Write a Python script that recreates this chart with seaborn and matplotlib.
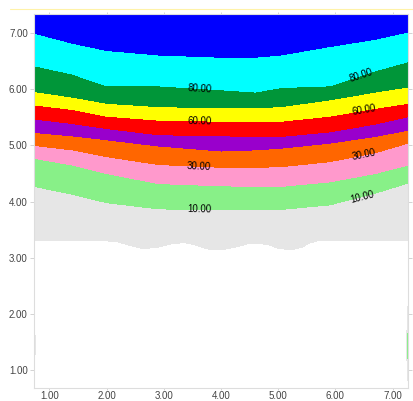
import matplotlib
matplotlib.use("Agg")
import matplotlib.pyplot as plt
import matplotlib.tri as mtri
from matplotlib.lines import Line2D
import numpy as np
import seaborn as sns

# columns where the band edges were read
x_cols = [0.73, 1.4, 2.0, 2.9, 4.0, 4.6, 5.05, 5.9, 6.7, 7.27]

# height of each contour level along those columns
y_90 = [7.00, 6.82, 6.69, 6.61, 6.57, 6.57, 6.61, 6.76, 6.89, 7.02]
y_80 = [6.42, 6.27, 6.06, 6.06, 5.99, 5.95, 6.03, 6.06, 6.33, 6.49]
y_70 = [5.96, 5.86, 5.75, 5.69, 5.67, 5.67, 5.69, 5.81, 5.95, 6.04]
y_60 = [5.72, 5.64, 5.52, 5.45, 5.43, 5.42, 5.43, 5.52, 5.66, 5.75]
y_50 = [5.47, 5.39, 5.30, 5.19, 5.17, 5.16, 5.16, 5.24, 5.38, 5.51]
y_40 = [5.23, 5.17, 5.10, 4.99, 4.90, 4.92, 4.95, 5.04, 5.16, 5.27]
y_30 = [5.00, 4.92, 4.80, 4.66, 4.61, 4.61, 4.62, 4.71, 4.87, 5.04]
y_20 = [4.77, 4.65, 4.50, 4.32, 4.28, 4.27, 4.27, 4.35, 4.50, 4.65]
y_10 = [4.27, 4.13, 3.98, 3.87, 3.85, 3.85, 3.86, 3.94, 4.15, 4.33]
y_top = [7.34] * len(x_cols)
z_top = [97] * len(x_cols)

# wavy lower edge of the filled area (value 0)
x_zero = [0.73, 1.4, 2.0, 2.2, 2.4, 2.64, 2.9, 3.15, 3.35, 3.55, 3.75, 3.87, 4.05,
          4.3, 4.5, 4.63, 4.8, 5.0, 5.21, 5.4, 5.55, 5.68, 6.5, 7.27]
y_zero = [3.30, 3.30, 3.30, 3.28, 3.22, 3.16, 3.19, 3.25, 3.27, 3.23, 3.16, 3.14, 3.15,
          3.20, 3.26, 3.27, 3.24, 3.17, 3.14, 3.18, 3.26, 3.30, 3.30, 3.30]

# low (unfilled) region
x_low = [0.73, 1.0, 2.0, 3.0, 4.0, 5.0, 6.0, 7.0, 7.27]
z_low_mid = [-1, -20, -20, -20, -20, -20, -20, -20, -1.3]
z_low_bottom = [-1, -20, -20, -20, -20, -20, -20, -20, -3]
y_low_mid = 2.2
y_low_bottom = 0.68

# thin slivers at the side edges
x_edge = [0.73, 0.80, 7.20, 7.27]
y_edge = [1.45, 1.45, 1.41, 1.41]
z_edge = [10, -20, -20, 15]

levels = [0, 10, 20, 30, 40, 50, 60, 70, 80, 90, 100]
colors = ["#e6e6e6", "#88f088", "#ff99cc", "#ff6600", "#9900cc",
          "#ff0000", "#ffff00", "#009639", "#00ffff", "#0000ff"]
label_levels = [10, 30, 60, 80]
label_pos = [(3.62, 3.83), (6.45, 4.14), (3.62, 4.6), (6.5, 4.87),
             (3.62, 5.42), (6.5, 5.64), (3.62, 5.97), (6.45, 6.24)]

xs, ys, zs = [], [], []
for lev, yy in zip([10, 20, 30, 40, 50, 60, 70, 80, 90],
                   [y_10, y_20, y_30, y_40, y_50, y_60, y_70, y_80, y_90]):
    xs += x_cols
    ys += yy
    zs += [lev] * len(x_cols)
xs += x_cols; ys += y_top; zs += z_top
xs += x_zero; ys += y_zero; zs += [0] * len(x_zero)
xs += x_low; ys += [y_low_mid] * len(x_low); zs += z_low_mid
xs += x_low; ys += [y_low_bottom] * len(x_low); zs += z_low_bottom
xs += x_edge; ys += y_edge; zs += z_edge

tri = mtri.Triangulation(np.array(xs), np.array(ys))
z = np.array(zs, dtype=float)

sns.set_style("ticks")
plt.rcParams['font.family'] = ['Liberation Sans', 'DejaVu Sans']

fig = plt.figure(figsize=(4.14, 4.01), dpi=100)
ax = fig.add_axes([34 / 414, 1 - 388 / 401, 374 / 414, 374 / 401])

ax.tricontourf(tri, z, levels=levels, colors=colors)
cs = ax.tricontour(tri, z, levels=label_levels, colors="black", linewidths=0)
ax.clabel(cs, fmt="%.2f", fontsize=7, colors="black", inline=False, manual=label_pos)

ax.set_xlim(0.73, 7.27)
ax.set_ylim(0.68, 7.34)
ax.set_xticks(range(1, 8))
ax.set_yticks(range(1, 8))
ax.set_xticklabels([f"{v:.2f}" for v in range(1, 8)])
ax.set_yticklabels([f"{v:.2f}" for v in range(1, 8)])
ax.tick_params(which="both", direction="out", length=3, width=0.6, color="#cccccc",
               labelsize=7, labelcolor="#444444", pad=1.5,
               top=True, right=True, labeltop=False, labelright=False)
ax.tick_params(axis="x", which="both", length=1.5, pad=1)
for s in ax.spines.values():
    s.set_color("#dddddd")
    s.set_linewidth(0.8)

fig.add_artist(Line2D([10 / 414, 1], [1 - 9 / 401, 1 - 9 / 401], color="#fff2a8", lw=0.8))

fig.savefig("out.png", dpi=100)
